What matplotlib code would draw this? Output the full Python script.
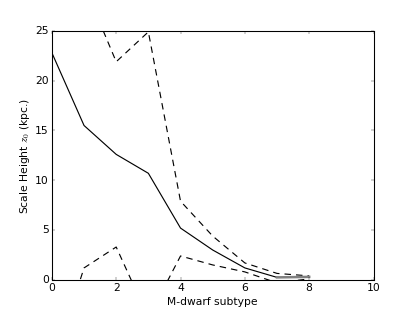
import matplotlib
matplotlib.use("Agg")
import matplotlib.pyplot as plt

plt.style.use('classic')
plt.rcParams['lines.scale_dashes'] = False
plt.rcParams['font.size'] = 15

subtype = [0, 1, 2, 3, 4, 5, 6, 7, 8]
scale_height = [22.8, 15.5, 12.6, 10.7, 5.2, 3.0, 1.2, 0.25, 0.25]
upper = [38.0, 29.6, 21.9, 24.9, 7.9, 4.4, 1.7, 0.65, 0.4]
lower = [-8.8, 1.2, 3.3, -3.8, 2.4, 1.5, 0.8, -0.3, 0.1]
grey_x = [7, 8]
grey_y = [0.25, 0.3]

fig = plt.figure(figsize=(8, 6), dpi=415 / 8)
ax = fig.add_subplot(111)
dash = (0, (9, 7))
ax.plot(subtype, scale_height, 'k-', lw=1.6)
ax.plot(subtype, upper, color='k', linestyle=dash, lw=1.6)
ax.plot(subtype, lower, color='k', linestyle=dash, lw=1.6)
ax.plot(grey_x, grey_y, '-', color='0.5', lw=3.5)
ax.set_xlim(0, 10)
ax.set_ylim(0, 25)
ax.tick_params(labelsize=15)
for s in ax.spines.values():
    s.set_linewidth(1.5)
ax.set_xlabel('M-dwarf subtype', fontsize=15)
ax.set_ylabel('Scale Height $z_0$ (kpc.)', fontsize=15)
fig.savefig('out.png', dpi=415 / 8)
